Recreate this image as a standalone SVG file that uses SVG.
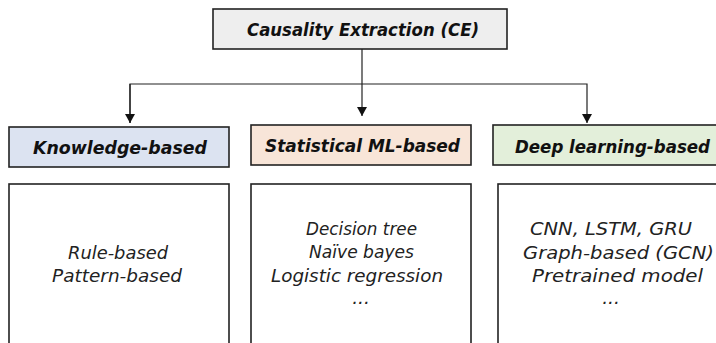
<svg xmlns="http://www.w3.org/2000/svg" width="716" height="343" viewBox="0 0 716 343">
<defs>
<marker id="arr" markerWidth="10" markerHeight="10" refX="9" refY="5" orient="auto" markerUnits="userSpaceOnUse">
<path d="M0,0 L9,5 L0,10 Z" fill="#111"/>
</marker>
<style>
.box{stroke:#222;stroke-width:1.6}
.hd{font-family:"DejaVu Sans","Open Sans",sans-serif;font-weight:bold;font-style:italic;font-size:17.5px;fill:#111;text-anchor:middle}
.bd{font-family:"DejaVu Sans","Open Sans",sans-serif;font-style:italic;font-size:18.5px;fill:#222;text-anchor:middle}
.ln{stroke:#222;stroke-width:1.2;fill:none}
</style>
</defs>
<rect width="716" height="343" fill="#fff"/>
<g id="connectors">
<polyline class="ln" points="130,123 130,84 587,84 587,123" marker-end="url(#arr)"/>
<line class="ln" x1="130" y1="84" x2="130" y2="123" marker-end="url(#arr)"/>
<line class="ln" x1="362" y1="49" x2="362" y2="116" marker-end="url(#arr)"/>
</g>
<g id="ce">
<rect class="box" x="213" y="9" width="294" height="40" fill="#eeeeee"/>
<text class="hd" x="363" y="36" textLength="232" lengthAdjust="spacingAndGlyphs">Causality Extraction (CE)</text>
</g>
<g id="knowledge">
<rect class="box" x="9" y="127" width="220" height="40" fill="#dce3f1"/>
<text class="hd" x="120" y="154" textLength="174" lengthAdjust="spacingAndGlyphs">Knowledge-based</text>
</g>
<g id="statistical">
<rect class="box" x="251" y="125" width="220" height="40" fill="#f8e5d8"/>
<text class="hd" x="362.5" y="152" textLength="195" lengthAdjust="spacingAndGlyphs">Statistical ML-based</text>
</g>
<g id="deep">
<rect class="box" x="493" y="125" width="226" height="40" fill="#e3efda"/>
<text class="hd" x="612.5" y="153" textLength="195" lengthAdjust="spacingAndGlyphs">Deep learning-based</text>
</g>
<g id="knowledge-items">
<rect class="box" x="9" y="184" width="220" height="170" fill="#fff"/>
<text class="bd" x="118" y="259" textLength="100" lengthAdjust="spacingAndGlyphs">Rule-based</text>
<text class="bd" x="117" y="282" textLength="130" lengthAdjust="spacingAndGlyphs">Pattern-based</text>
</g>
<g id="statistical-items">
<rect class="box" x="251" y="184" width="220" height="170" fill="#fff"/>
<text class="bd" x="361.5" y="235" textLength="111" lengthAdjust="spacingAndGlyphs">Decision tree</text>
<text class="bd" x="361.5" y="258" textLength="105" lengthAdjust="spacingAndGlyphs">Naïve bayes</text>
<text class="bd" x="357" y="282" textLength="172" lengthAdjust="spacingAndGlyphs">Logistic regression</text>
<text class="bd" x="361" y="304">...</text>
</g>
<g id="deep-items">
<rect class="box" x="498" y="184" width="226" height="170" fill="#fff"/>
<text class="bd" x="611" y="235" textLength="162" lengthAdjust="spacingAndGlyphs">CNN, LSTM, GRU</text>
<text class="bd" x="618.5" y="259" textLength="191" lengthAdjust="spacingAndGlyphs">Graph-based (GCN)</text>
<text class="bd" x="617.5" y="282" textLength="171" lengthAdjust="spacingAndGlyphs">Pretrained model</text>
<text class="bd" x="611" y="304">...</text>
</g>
</svg>
